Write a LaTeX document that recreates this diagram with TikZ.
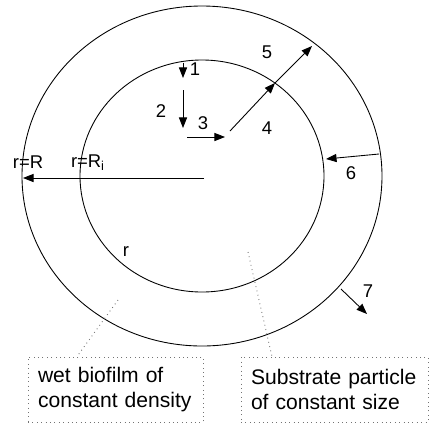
\documentclass[tikz,border=0pt]{standalone}
\usepackage{fontspec}
\setmainfont{Liberation Sans}
\usetikzlibrary{arrows.meta,positioning}
\definecolor{ldr}{gray}{0.45}
\tikzset{
 arr/.style={line width=0.5pt,-{Triangle[length=6pt,width=4.6pt]}},
 num/.style={font=\fontsize{10.5}{12}\selectfont,inner sep=0pt},
 tag/.style={draw=ldr,dotted,line width=0.5pt,align=left,
   font=\fontsize{12}{14.2}\selectfont,inner xsep=0.2cm,minimum height=1.3cm},
 lead/.style={ldr,dotted,line width=0.5pt}
}

\begin{document}
\begin{tikzpicture}[x=0.02cm,y=-0.02cm]
 \useasboundingbox (0,0) rectangle (430,424);
 \draw[line width=0.5pt] (202,176) ellipse [x radius=180, y radius=170];
 \draw[line width=0.5pt] (202,176) ellipse [x radius=122, y radius=116];
 \draw[arr] (183,63)--(183,78);
 \draw[arr] (183,90)--(183,128);
 \draw[arr] (187,137)--(225,137);
 \draw[arr] (230,131)--(275,83);
 \draw[arr] (275,83)--(312,46);
 \draw[arr] (379,154)--(326,159);
 \draw[arr] (341,289)--(367,314);
 \draw[arr] (204,178)--(23,178);
 \node[num] (n1) at (195,69) {1};
 \node[num] (n2) at (161,111) {2};
 \node[num] (n3) at (203,123) {3};
 \node[num] (n4) at (267,128) {4};
 \node[num] (n5) at (267,52) {5};
 \node[num] (n6) at (351,173) {6};
 \node[num] (n7) at (368,291) {7};
 \node[num] (rR) at (28,162) {r=R};
 \node[num] (rRi) at (88,163) {r=R\textsubscript{i}};
 \node[num] (r) at (126,252) {r};
 \node[tag,text width=3.1cm] (wet) at (115.5,389.5) {wet biofilm of\\constant density};
 \node[tag,text width=3.34cm] (sub) at (334.5,389.5) {Substrate particle\\of constant size};
 \coordinate (wl) at (118,300);
 \coordinate (sl) at (248,252);
 \draw[lead] (wl)--(77,0 |- wet.north);
 \draw[lead] (sl)--(272,0 |- sub.north);
\end{tikzpicture}
\end{document}
